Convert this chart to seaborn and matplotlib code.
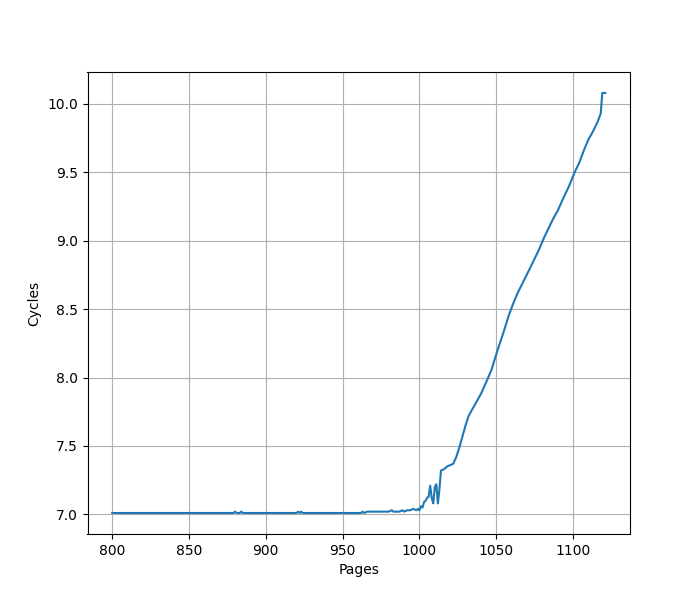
import pandas as pd
import matplotlib
matplotlib.use("Agg")
import matplotlib.pyplot as plt
import seaborn as sns

# values
pages = [800, 810, 820, 830, 840, 850, 860, 870, 879, 880, 881, 883, 884, 885,
         890, 900, 910, 920, 921, 922, 923, 924, 925, 930, 940, 950, 960, 962,
         963, 964, 966, 970, 975, 980, 982, 983, 985, 987, 989, 990, 992, 994,
         996, 998, 999, 1000, 1001, 1002, 1003, 1004, 1005, 1006, 1007, 1008,
         1009, 1010, 1011, 1012, 1013, 1014, 1016, 1018, 1020, 1022, 1024, 1026,
         1028, 1030, 1032, 1034, 1037, 1040, 1044, 1047, 1050, 1052, 1055, 1058,
         1061, 1064, 1068, 1072, 1075, 1078, 1081, 1084, 1087, 1090, 1094, 1097,
         1101, 1104, 1107, 1110, 1113, 1116, 1118, 1119, 1121]
cycles = [7.01, 7.01, 7.01, 7.01, 7.01, 7.01, 7.01, 7.01, 7.01, 7.02, 7.01, 7.01, 7.02, 7.01,
          7.01, 7.01, 7.01, 7.01, 7.02, 7.01, 7.02, 7.01, 7.01, 7.01, 7.01, 7.01, 7.01, 7.01,
          7.02, 7.01, 7.02, 7.02, 7.02, 7.02, 7.03, 7.02, 7.02, 7.02, 7.03, 7.02, 7.03, 7.03,
          7.04, 7.03, 7.04, 7.03, 7.06, 7.05, 7.09, 7.10, 7.12, 7.13, 7.21, 7.12,
          7.08, 7.20, 7.22, 7.08, 7.18, 7.32, 7.33, 7.35, 7.36, 7.37, 7.42, 7.49,
          7.57, 7.65, 7.72, 7.76, 7.82, 7.88, 7.98, 8.06, 8.17, 8.24, 8.34, 8.45,
          8.54, 8.62, 8.71, 8.80, 8.87, 8.94, 9.02, 9.09, 9.16, 9.22, 9.32, 9.39,
          9.50, 9.57, 9.66, 9.74, 9.80, 9.87, 9.93, 10.08, 10.08]

df = pd.DataFrame({"Pages": pages, "Cycles": cycles})

fig, ax = plt.subplots(figsize=(7, 6), dpi=100)
sns.lineplot(data=df, x="Pages", y="Cycles", ax=ax, color="#1f77b4")
ax.grid(True)
ax.set_xlabel("Pages")
ax.set_ylabel("Cycles")

plt.savefig("out.png")
